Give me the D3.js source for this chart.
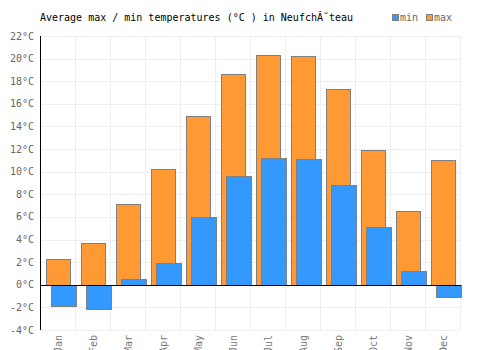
<!DOCTYPE html>
<html>
<head>
<meta charset="utf-8">
<script src="https://cdn.jsdelivr.net/npm/d3@7"></script>
<style>
  body { margin: 0; background: #fff; }
  text { font-family: "DejaVu Sans Mono", monospace; }
</style>
</head>
<body>
<script>
var months = ["Jan", "Feb", "Mar", "Apr", "May", "Jun", "Jul", "Aug", "Sep", "Oct", "Nov", "Dec"];
var maxTemp = [2.3, 3.7, 7.1, 10.2, 14.9, 18.6, 20.3, 20.2, 17.3, 11.9, 6.5, 11.0];
var minTemp = [-1.9, -2.1, 0.5, 1.9, 6.0, 9.6, 11.2, 11.1, 8.8, 5.1, 1.2, -1.1];
var yTicks = [-4, -2, 0, 2, 4, 6, 8, 10, 12, 14, 16, 18, 20, 22];

var w = 500,
    h = 350;

var margin = { top: 36, right: 40, bottom: 20, left: 40 },
    width = w - margin.left - margin.right,
    height = h - margin.top - margin.bottom;

var svg = d3
    .select("body")
    .append("svg")
    .attr("width", w)
    .attr("height", h);

var g = svg.append("g")
    .attr("transform", "translate(" + margin.left + "," + margin.top + ")");

var x = d3.scaleBand()
    .domain(months)
    .range([0, 420]);

var y = d3.scaleLinear()
    .domain([-4, 22])
    .range([294, 0]);

// grid
g.selectAll(".hgrid")
    .data(yTicks)
    .enter()
    .append("line")
    .attr("x1", 0)
    .attr("x2", 420)
    .attr("y1", function (d) { return Math.round(y(d)) + 0.5; })
    .attr("y2", function (d) { return Math.round(y(d)) + 0.5; })
    .attr("stroke", "#eeeeee");

g.selectAll(".vgrid")
    .data(months)
    .enter()
    .append("line")
    .attr("x1", function (d) { return x(d) + x.bandwidth() + 0.5; })
    .attr("x2", function (d) { return x(d) + x.bandwidth() + 0.5; })
    .attr("y1", 0)
    .attr("y2", 294)
    .attr("stroke", "#eeeeee");

// bars
var bw = x.bandwidth() * 0.69;

g.selectAll(".maxbar")
    .data(maxTemp)
    .enter()
    .append("rect")
    .attr("x", function (d, i) { return Math.round(x(months[i]) + 6) + 0.5; })
    .attr("y", function (d) { return Math.round(y(d)) + 0.5; })
    .attr("width", Math.round(bw))
    .attr("height", function (d) { return Math.round(y(0)) - Math.round(y(d)); })
    .attr("fill", "#ff9933")
    .attr("stroke", "#808080");

g.selectAll(".minbar")
    .data(minTemp)
    .enter()
    .append("rect")
    .attr("x", function (d, i) { return Math.round(x(months[i]) + 11) + 0.5; })
    .attr("y", function (d) { return Math.round(y(Math.max(0, d))) + 0.5; })
    .attr("width", Math.round(bw) + 1)
    .attr("height", function (d) { return Math.abs(Math.round(y(0)) - Math.round(y(d))); })
    .attr("fill", "#3399ff")
    .attr("stroke", "#808080");

// zero line and y axis
g.append("line")
    .attr("x1", 0)
    .attr("x2", 421)
    .attr("y1", Math.round(y(0)) + 0.5)
    .attr("y2", Math.round(y(0)) + 0.5)
    .attr("stroke", "#000");

g.append("line")
    .attr("x1", 0.5)
    .attr("x2", 0.5)
    .attr("y1", 0)
    .attr("y2", 294)
    .attr("stroke", "#000");

// y labels
g.selectAll(".ylabel")
    .data(yTicks)
    .enter()
    .append("text")
    .attr("x", -6)
    .attr("y", function (d) { return y(d); })
    .attr("dy", "0.35em")
    .attr("text-anchor", "end")
    .attr("font-size", 10)
    .attr("fill", "#666")
    .text(function (d) { return d + "°C"; });

// x labels (cut at the bottom edge, as in the original)
g.selectAll(".xlabel")
    .data(months)
    .enter()
    .append("text")
    .attr("transform", function (d) {
        return "translate(" + (x(d) + x.bandwidth() / 2 + 4) + "," + 299 + ") rotate(-90)";
    })
    .attr("text-anchor", "end")
    .attr("font-size", 10)
    .attr("fill", "#777")
    .text(function (d) { return d; });

// title
svg.append("text")
    .attr("x", 40)
    .attr("y", 21)
    .attr("font-size", 10)
    .attr("fill", "#000")
    .text("Average max / min temperatures (°C ) in NeufchĂ˘teau");

// legend
var legend = [
    { name: "min", color: "#3399ff", x: 392 },
    { name: "max", color: "#ff9933", x: 426 }
];

svg.selectAll(".legbox")
    .data(legend)
    .enter()
    .append("rect")
    .attr("x", function (d) { return d.x + 0.5; })
    .attr("y", 14.5)
    .attr("width", 6)
    .attr("height", 6)
    .attr("fill", function (d) { return d.color; })
    .attr("stroke", "#808080");

svg.selectAll(".legtext")
    .data(legend)
    .enter()
    .append("text")
    .attr("x", function (d) { return d.x + 8; })
    .attr("y", 21)
    .attr("font-size", 10)
    .attr("fill", "#666")
    .text(function (d) { return d.name; });
</script>
</body>
</html>
